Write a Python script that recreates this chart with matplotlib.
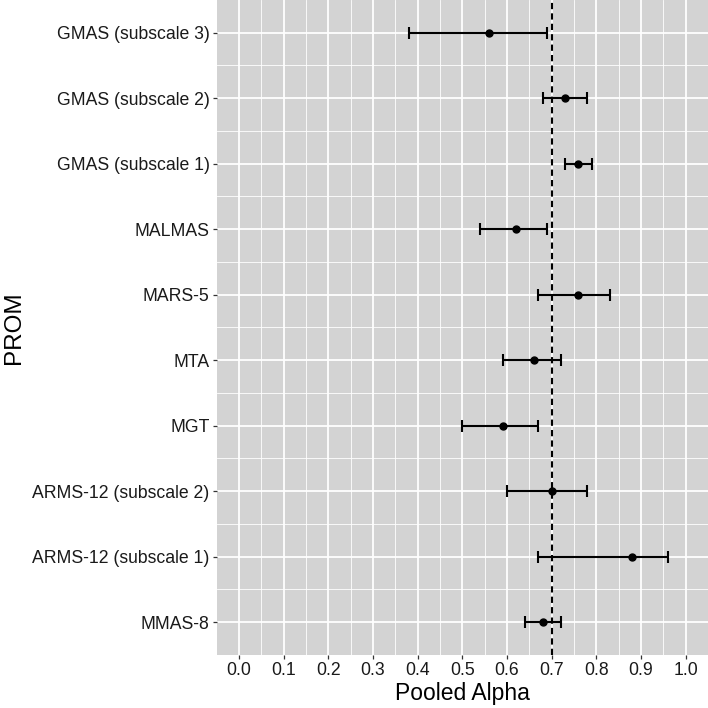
import numpy as np
import matplotlib
matplotlib.use("Agg")
import matplotlib.pyplot as plt

# PROM labels, bottom to top
prom = ["MMAS-8", "ARMS-12 (subscale 1)", "ARMS-12 (subscale 2)", "MGT", "MTA",
        "MARS-5", "MALMAS", "GMAS (subscale 1)", "GMAS (subscale 2)", "GMAS (subscale 3)"]
alpha = [0.68, 0.88, 0.70, 0.59, 0.66, 0.76, 0.62, 0.76, 0.73, 0.56]
lower = [0.64, 0.67, 0.60, 0.50, 0.59, 0.67, 0.54, 0.73, 0.68, 0.38]
upper = [0.72, 0.96, 0.78, 0.67, 0.72, 0.83, 0.69, 0.79, 0.78, 0.69]
xticks = np.arange(0, 1.01, 0.1)

plt.rcParams['font.family'] = ['Liberation Sans', 'DejaVu Sans']

alpha = np.array(alpha)
lower = np.array(lower)
upper = np.array(upper)
ypos = np.arange(1, len(prom) + 1)

fig = plt.figure(figsize=(7.08, 7.08), dpi=100)
ax = fig.add_axes([0.306, 0.0749, 0.694, 0.9251])
ax.set_facecolor("#d3d3d3")

ax.set_xlim(-0.05, 1.05)
ax.set_ylim(0.5, 10.5)
ax.set_xticks(xticks)
ax.set_xticklabels([f"{t:.1f}" for t in xticks])
ax.set_xticks(np.arange(0.05, 1.0, 0.1), minor=True)
ax.set_yticks(ypos)
ax.set_yticklabels(prom)
ax.set_yticks(np.arange(1.5, 10.0, 1.0), minor=True)

ax.grid(which="major", color="white", lw=1.3)
ax.grid(which="minor", color="white", lw=0.6)
ax.set_axisbelow(True)
for s in ax.spines.values():
    s.set_visible(False)
ax.tick_params(which="major", length=3, width=0.9, color="#333333",
               labelsize=12.7, labelcolor="#1a1a1a", pad=2)
ax.tick_params(which="minor", length=0)

ax.axvline(0.7, color="black", ls=(0, (3, 2)), lw=1.5, zorder=2)
ax.errorbar(alpha, ypos, xerr=[alpha - lower, upper - alpha], fmt="o",
            color="black", ms=5, elinewidth=1.5, capsize=4, capthick=1.5, zorder=3)

ax.set_xlabel("Pooled Alpha", fontsize=16.5, labelpad=2)
ax.set_ylabel("PROM", fontsize=17.5, labelpad=5)

fig.savefig("out.png", dpi=100)
